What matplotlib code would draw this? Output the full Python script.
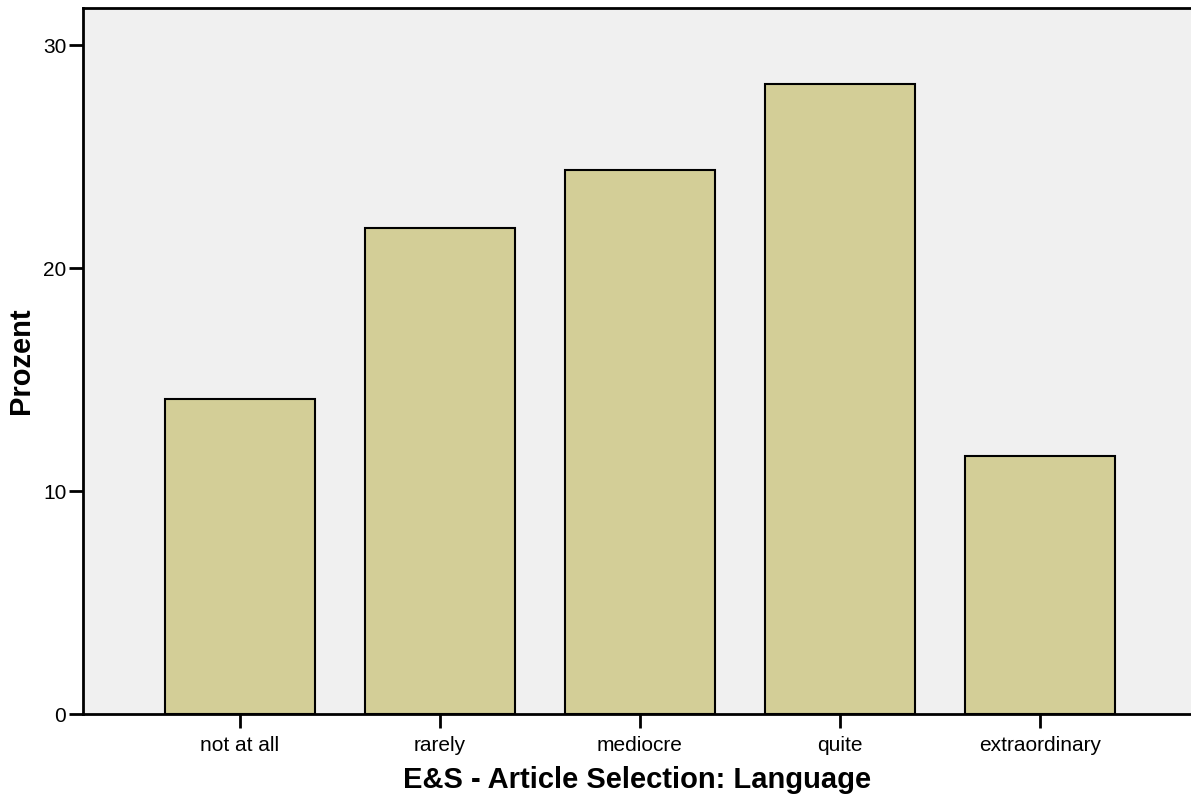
import numpy as np
import matplotlib.pyplot as plt

categories = ['not at all', 'rarely', 'mediocre', 'quite', 'extraordinary']
percent = [14.13, 21.79, 24.39, 28.25, 11.57]

plt.rcParams['font.family'] = ['Liberation Sans', 'DejaVu Sans']

W, H = 1191, 802
fig = plt.figure(figsize=(W / 100, H / 100), dpi=100)
ax = fig.add_axes([83 / W, (H - 714) / H, (W - 83) / W, (714 - 8) / H])
ax.set_facecolor('#f0f0f0')

x = np.arange(len(categories))
ax.bar(x, percent, width=0.75, color='#d3ce97', edgecolor='black', linewidth=1.5, zorder=2)

ax.set_xlim(-0.785, 4.755)
ax.set_ylim(0, 31.66)
ax.set_xticks(x)
ax.set_xticklabels(categories, fontsize=15)
ax.set_yticks([0, 10, 20, 30])
ax.set_yticklabels(['0', '10', '20', '30'], fontsize=15)
ax.tick_params(axis='both', length=10, width=2, color='black')
ax.tick_params(axis='x', pad=6)
ax.tick_params(axis='y', pad=2)

for s in ['left', 'bottom', 'top']:
    ax.spines[s].set_linewidth(2)
ax.spines['right'].set_visible(False)

ax.set_xlabel('E&S - Article Selection: Language', fontsize=21, fontweight='bold', labelpad=8)
ax.set_ylabel('Prozent', fontsize=21, fontweight='bold', labelpad=6)

fig.savefig('out.png', dpi=100)
